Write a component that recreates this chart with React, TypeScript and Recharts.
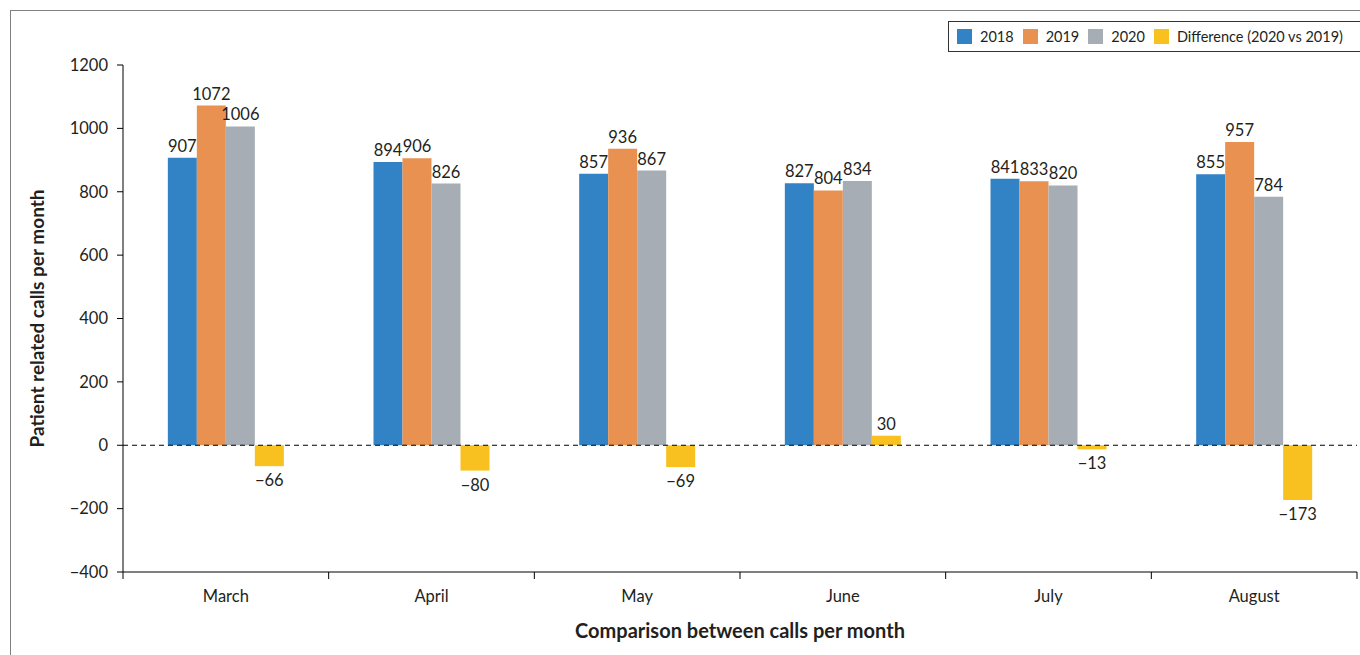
import React from "react";
import {
  Bar,
  BarChart,
  LabelList,
  Legend,
  ReferenceLine,
  XAxis,
  YAxis,
} from "recharts";

const months = ["March", "April", "May", "June", "July", "August"];
const calls2018 = [907, 894, 857, 827, 841, 855];
const calls2019 = [1072, 906, 936, 804, 833, 957];
const calls2020 = [1006, 826, 867, 834, 820, 784];
const diff2020vs2019 = [-66, -80, -69, 30, -13, -173];
const yTicks = [-400, -200, 0, 200, 400, 600, 800, 1000, 1200];

const COLORS = {
  y2018: "#3283c5",
  y2019: "#e89150",
  y2020: "#a7adb4",
  diff: "#f8c11f",
} as const;

const SERIES = [
  { key: "y2018", name: "2018", color: COLORS.y2018 },
  { key: "y2019", name: "2019", color: COLORS.y2019 },
  { key: "y2020", name: "2020", color: COLORS.y2020 },
  { key: "diff", name: "Difference (2020 vs 2019)", color: COLORS.diff },
];

const FONT = "Lato, 'Open Sans', sans-serif";
const TEXT = "#231f20";

const W = 1360;
const H = 655;

function fmt(v: number): string {
  return v < 0 ? `\u2212${Math.abs(v)}` : String(v);
}

function ValueLabel(props: any) {
  const { x, y, width, height, value } = props;
  const v = Number(value);
  const top = Math.min(y, y + height);
  const bottom = Math.max(y, y + height);
  return (
    <text
      x={x + width / 2}
      y={v >= 0 ? top - 6 : bottom + 20}
      textAnchor="middle"
      fontSize={16.5}
      fontFamily={FONT}
      fill={TEXT}
    >
      {fmt(v)}
    </text>
  );
}

function MonthTick(props: any) {
  const { x, y, payload, index, visibleTicksCount } = props;
  const half = payload?.offset ?? (W - 123 - 3) / months.length / 2;
  const last = index === (visibleTicksCount ?? months.length) - 1;
  return (
    <g>
      <line x1={x - half} x2={x - half} y1={y} y2={y + 7} stroke="#000" />
      {last ? <line x1={x + half} x2={x + half} y1={y} y2={y + 7} stroke="#000" /> : null}
      <text x={x} y={y + 30} textAnchor="middle" fontSize={16.5} fontFamily={FONT} fill={TEXT}>
        {payload.value}
      </text>
    </g>
  );
}

function LegendBox() {
  return (
    <div
      style={{
        display: "flex",
        alignItems: "center",
        height: 31,
        border: "1.5px solid #333",
        borderRight: "none",
        paddingLeft: 8,
        background: "#fff",
        boxSizing: "border-box",
        fontFamily: FONT,
        fontSize: 14.5,
        color: TEXT,
      }}
    >
      {SERIES.map((s) => (
        <div key={s.key} style={{ display: "flex", alignItems: "center", marginRight: 9 }}>
          <span style={{ width: 15, height: 15, background: s.color, display: "inline-block", marginRight: 8 }} />
          <span>{s.name}</span>
        </div>
      ))}
    </div>
  );
}

export default function App() {
  const data = months.map((m, i) => ({
    month: m,
    y2018: calls2018[i],
    y2019: calls2019[i],
    y2020: calls2020[i],
    diff: diff2020vs2019[i],
  }));

  return (
    <div style={{ position: "fixed", left: 0, top: 0, width: W, height: H, background: "#fff" }}>
      <div
        style={{
          position: "absolute",
          left: 10,
          top: 10,
          right: 0,
          bottom: 0,
          borderLeft: "1.5px solid #7f7f7f",
          borderTop: "1.5px solid #7f7f7f",
        }}
      />
      <BarChart
        width={W}
        height={H}
        data={data}
        margin={{ top: 65, right: 3, left: 0, bottom: 0 }}
        barCategoryGap="21.8%"
        barGap={0}
      >
        <XAxis
          dataKey="month"
          height={83}
          axisLine={{ stroke: "#000" }}
          tickLine={false}
          tickSize={0}
          tickMargin={0}
          tick={<MonthTick />}
          interval={0}
          label={(p: any) => {
            const vb = p.viewBox;
            return (
              <text
                x={vb.x + vb.width / 2}
                y={638}
                textAnchor="middle"
                fontSize={20}
                fontWeight={700}
                fontFamily={FONT}
                fill={TEXT}
              >
                Comparison between calls per month
              </text>
            );
          }}
        />
        <YAxis
          width={123}
          domain={[-400, 1200]}
          ticks={yTicks}
          interval={0}
          axisLine={{ stroke: "#000" }}
          tickLine={{ stroke: "#000" }}
          tickSize={6}
          tickMargin={9}
          tickFormatter={fmt}
          tick={{ fontSize: 16.5, fontFamily: FONT, fill: TEXT }}
          label={(p: any) => {
            const vb = p.viewBox;
            const cy = vb.y + vb.height / 2;
            return (
              <text
                x={44}
                y={cy}
                transform={`rotate(-90 44 ${cy})`}
                textAnchor="middle"
                fontSize={19}
                fontWeight={700}
                fontFamily={FONT}
                fill={TEXT}
              >
                Patient related calls per month
              </text>
            );
          }}
        />
        <Legend
          layout="vertical"
          align="center"
          verticalAlign="middle"
          wrapperStyle={{ top: 21, left: 948, width: 412, height: 31 }}
          content={() => <LegendBox />}
        />
        {SERIES.map((s) => (
          <Bar key={s.key} dataKey={s.key} name={s.name} fill={s.color} isAnimationActive={false}>
            <LabelList dataKey={s.key} content={<ValueLabel />} />
          </Bar>
        ))}
        <ReferenceLine y={0} stroke="#000" strokeDasharray="5 4" strokeWidth={1.2} />
      </BarChart>
    </div>
  );
}
